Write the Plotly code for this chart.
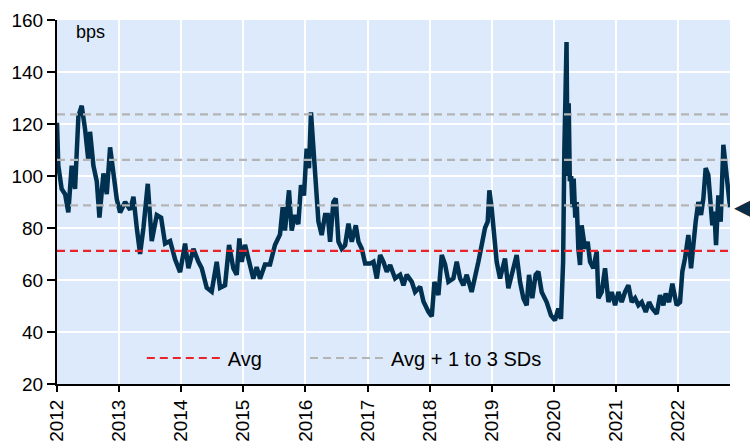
import pandas as pd
import plotly.graph_objects as go

# spread readings, x in decimal years
t_years = [
    2012.000, 2012.021, 2012.075, 2012.130, 2012.182, 2012.236, 2012.290, 2012.344,
    2012.397, 2012.451, 2012.504, 2012.531, 2012.585, 2012.639, 2012.682, 2012.746,
    2012.800, 2012.853, 2012.907, 2012.961, 2013.014, 2013.095, 2013.176, 2013.229,
    2013.283, 2013.336, 2013.390, 2013.460, 2013.524, 2013.605, 2013.675, 2013.739,
    2013.820, 2013.900, 2013.981, 2014.040, 2014.061, 2014.115, 2014.195, 2014.276,
    2014.330, 2014.410, 2014.490, 2014.571, 2014.625, 2014.705, 2014.770, 2014.839,
    2014.893, 2014.936, 2014.974, 2015.027, 2015.108, 2015.161, 2015.215, 2015.269,
    2015.349, 2015.430, 2015.510, 2015.591, 2015.634, 2015.671, 2015.736, 2015.779,
    2015.832, 2015.886, 2015.929, 2015.977, 2016.020, 2016.058, 2016.090, 2016.128,
    2016.155, 2016.181, 2016.209, 2016.262, 2016.316, 2016.359, 2016.397, 2016.450,
    2016.488, 2016.531, 2016.584, 2016.638, 2016.692, 2016.745, 2016.810, 2016.853,
    2016.907, 2016.960, 2017.041, 2017.094, 2017.148, 2017.202, 2017.255, 2017.309,
    2017.363, 2017.443, 2017.524, 2017.577, 2017.631, 2017.712, 2017.765, 2017.846,
    2017.900, 2017.980, 2018.034, 2018.077, 2018.141, 2018.195, 2018.248, 2018.302,
    2018.382, 2018.436, 2018.490, 2018.543, 2018.597, 2018.677, 2018.731, 2018.785,
    2018.849, 2018.892, 2018.935, 2018.962, 2018.999, 2019.042, 2019.080, 2019.134,
    2019.171, 2019.214, 2019.268, 2019.348, 2019.402, 2019.456, 2019.510, 2019.563,
    2019.601, 2019.654, 2019.708, 2019.751, 2019.805, 2019.885, 2019.955, 2020.019,
    2020.073, 2020.116, 2020.150, 2020.170, 2020.190, 2020.205, 2020.222, 2020.240,
    2020.258, 2020.280, 2020.300, 2020.320, 2020.345, 2020.368, 2020.395, 2020.422,
    2020.448, 2020.502, 2020.545, 2020.583, 2020.636, 2020.690, 2020.717, 2020.770,
    2020.824, 2020.878, 2020.931, 2020.985, 2021.039, 2021.092, 2021.146, 2021.200,
    2021.253, 2021.307, 2021.361, 2021.415, 2021.479, 2021.533, 2021.586, 2021.656,
    2021.710, 2021.763, 2021.801, 2021.855, 2021.908, 2021.978, 2022.032, 2022.069,
    2022.112, 2022.166, 2022.209, 2022.246, 2022.284, 2022.327, 2022.370, 2022.408,
    2022.445, 2022.488, 2022.515, 2022.552, 2022.585, 2022.612, 2022.649, 2022.687,
    2022.730, 2022.767, 2022.800, 2022.837,
]
spread_bps = [
    120.5, 104, 95, 93, 86, 104, 95, 123,
    127, 118, 106, 117, 104, 98, 84, 101,
    93, 111, 101, 91, 86, 90, 87, 92,
    80, 70, 80, 97, 75, 85, 84, 74,
    75, 68, 63, 72, 74, 64.5, 72, 67,
    64.5, 57, 55.5, 67, 57, 58, 73.5, 64.5,
    62, 76, 67, 73.5, 66, 60.5, 65, 60.5,
    66, 66, 73.5, 77.5, 88, 79, 94.5, 79,
    85, 81.5, 96.5, 92.5, 110.5, 103, 124.5, 110.5,
    105, 90, 82.5, 77.3, 85, 85, 74.7, 90,
    91.4, 74.7, 72, 73.4, 81.7, 74.7, 81, 74.7,
    72, 66.3, 66.3, 67, 60.6, 69.6, 67, 63.2,
    65.8, 60.6, 62, 58, 62, 59.3, 55.4, 57.4,
    51.7, 47.8, 46, 59.3, 54.2, 69.6, 66, 59.3,
    60.6, 67, 60.6, 58, 62, 55.4, 60.6, 67,
    74.7, 80, 82.4, 94.5, 87.6, 74.7, 67, 60.6,
    64.5, 68.3, 56.8, 64.5, 69.6, 59.3, 53, 50.3,
    62, 53, 62, 63.2, 55.4, 51.5, 46.4, 44.5,
    49, 45, 67, 110, 140, 151.5, 100, 128,
    98, 100, 88, 99, 84, 90, 72, 65.8,
    81, 72, 74.7, 67, 64.5, 71, 53, 55.4,
    64.5, 51.5, 55.4, 50.3, 55.4, 51.5, 55.4, 58,
    51.5, 53, 50.3, 51.5, 47.7, 51.5, 49, 47,
    54.2, 50.3, 54.8, 51.5, 58.6, 50.3, 51.5, 63.2,
    68.3, 77.3, 64.5, 74.7, 82.4, 90, 85, 91.4,
    103, 100.4, 92.6, 81, 86.3, 73.4, 92.6, 82.4,
    112, 103, 95.3, 88,
]
avg_level = 71.2
sd_levels = [88.7, 106.2, 123.7]
year_ticks = list(range(2012, 2023))


def to_date(t):
    y = int(t)
    start = pd.Timestamp(year=y, month=1, day=1)
    end = pd.Timestamp(year=y + 1, month=1, day=1)
    return start + (end - start) * (t - y)


dates = [to_date(t) for t in t_years]
x0, x1 = dates[0], dates[-1]

fig = go.Figure()

fig.add_trace(go.Scatter(
    x=dates, y=spread_bps, mode="lines",
    line=dict(color="#003150", width=4.5),
    showlegend=False,
))

fig.add_trace(go.Scatter(
    x=[x0, x1], y=[avg_level, avg_level], mode="lines", name="Avg",
    line=dict(color="#E8232A", width=2.2, dash="8px,5px"),
    legend="legend",
))

sd_x, sd_y = [], []
for lvl in sd_levels:
    sd_x += [x0, x1, None]
    sd_y += [lvl, lvl, None]
fig.add_trace(go.Scatter(
    x=sd_x, y=sd_y, mode="lines", name="Avg + 1 to 3 SDs",
    line=dict(color="#B4B4B4", width=2.2, dash="8px,5px"),
    legend="legend2",
))

fig.add_annotation(
    text="bps", xref="paper", yref="paper", x=0.025, y=0.967,
    xanchor="left", yanchor="middle", showarrow=False,
    font=dict(size=18, color="black"),
)

# latest-value pointer just right of the plot
fig.add_annotation(
    text="\u25C0", x=x1, y=spread_bps[-1], xanchor="left", yanchor="middle",
    xshift=2, showarrow=False,
    font=dict(family="DejaVu Sans", size=24, color="#0A2E4A"),
)

leg = dict(
    orientation="h", xanchor="left", yanchor="middle", y=0.0714,
    bgcolor="rgba(0,0,0,0)", font=dict(size=20), itemwidth=76,
)
fig.update_layout(
    width=750, height=443,
    margin=dict(l=57, r=20, t=20, b=59),
    paper_bgcolor="white",
    plot_bgcolor="#DCEAFB",
    font=dict(family="Liberation Sans, Arial", size=19, color="black"),
    legend=dict(leg, x=0.126),
    legend2=dict(leg, x=0.3685),
)

fig.update_xaxes(
    type="date", range=[x0, x1], automargin=False,
    tickvals=[pd.Timestamp(year=y, month=1, day=1) for y in year_ticks],
    ticktext=[str(y) for y in year_ticks],
    tickangle=-90, ticks="outside", ticklen=6, tickwidth=2, tickcolor="black",
    showline=True, linecolor="black", linewidth=2,
    showgrid=True, gridcolor="white", gridwidth=2, zeroline=False,
)
fig.update_yaxes(
    range=[20, 160], dtick=20, ticks="outside", ticklen=8, tickwidth=2,
    tickcolor="black", automargin=False,
    showline=True, linecolor="black", linewidth=2,
    showgrid=True, gridcolor="white", gridwidth=2, zeroline=False,
)

fig.write_html("out.html", config={"displayModeBar": False},
               post_script="document.body.style.margin='0';")
